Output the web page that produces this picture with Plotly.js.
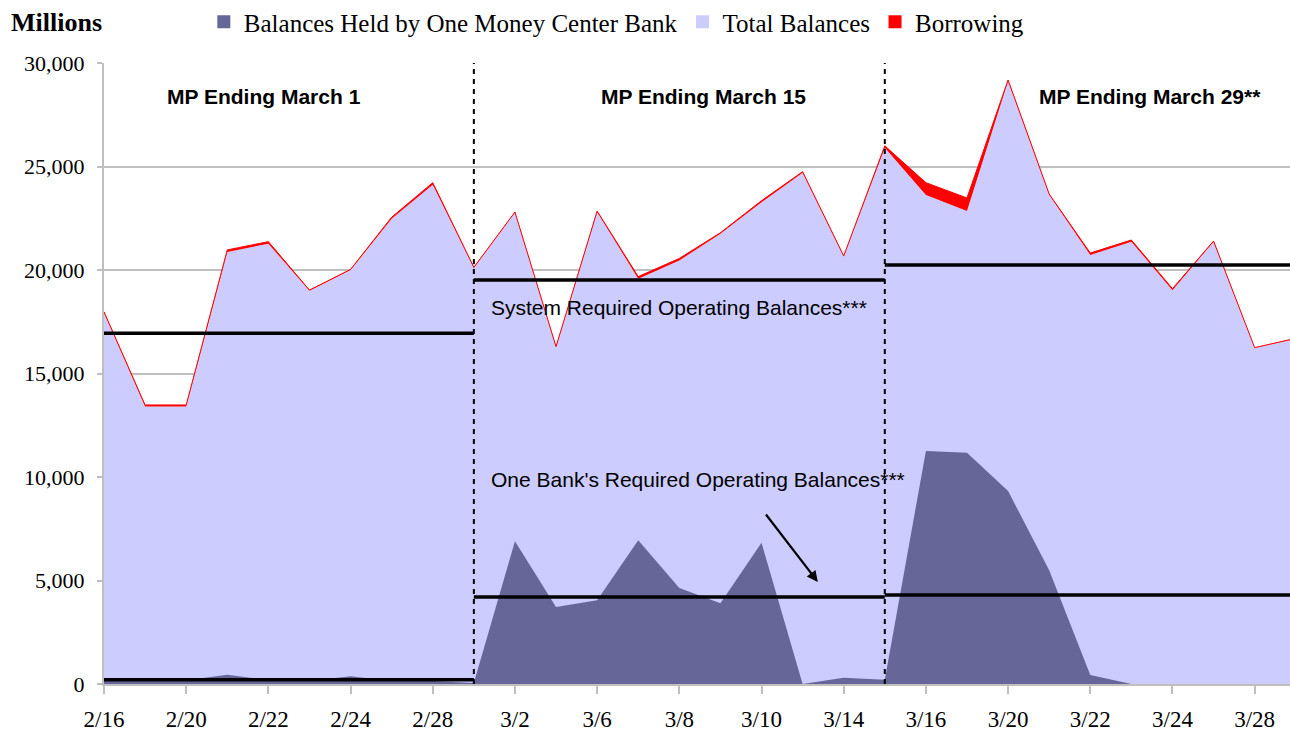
<!DOCTYPE html>
<html>
<head>
<meta charset="utf-8">
<script src="https://cdn.plot.ly/plotly-3.0.1.min.js"></script>
<style>html,body{margin:0;padding:0;background:#fff;}#chart{width:1290px;height:734px;}</style>
</head>
<body>
<div id="chart"></div>
<script>
// Business days (categories)
const dates = ["2/16","2/17","2/20","2/21","2/22","2/23","2/24","2/27","2/28","3/1",
               "3/2","3/3","3/6","3/7","3/8","3/9","3/10","3/13","3/14","3/15",
               "3/16","3/17","3/20","3/21","3/22","3/23","3/24","3/27","3/28","3/29"];
// Tick labels shown on the axis (every second business day)
const tickLabels = ["2/16","2/20","2/22","2/24","2/28","3/2","3/6","3/8","3/10","3/14","3/16","3/20","3/22","3/24","3/28"];

// Total balances (millions)
const totalBalances = [17930,13400,13400,20870,21270,19000,20000,22470,24120,20100,
                       22780,16270,22800,19580,20460,21750,23270,24700,20650,25900,
                       23620,22850,29130,23640,20720,21370,19020,21370,16230,16680];
// Borrowing (stacked on total balances)
const borrowing = [50,80,80,100,100,30,30,80,100,30,
                   20,30,50,100,100,50,80,50,30,100,
                   600,630,50,30,100,80,80,30,20,20];
// Balances held by one money center bank
const bankBalances = [150,150,180,450,180,150,380,150,150,50,
                      6900,3720,4050,6950,4640,3900,6820,0,300,200,
                      11260,11170,9320,5500,430,0,0,0,0,0];

// Maintenance periods
const periodNames = ["MP Ending March 1","MP Ending March 15","MP Ending March 29**"];
const periodStart = [0, 9, 19];
const periodEnd = [9, 19, 29];
const systemRequired = [16950, 19520, 20240];
const bankRequired = [200, 4200, 4300];

const idx = dates.map((d,i)=>i);
const tickIdx = tickLabels.map(l => dates.indexOf(l));

const traces = [];
traces.push({x: idx, y: totalBalances, type:'scatter', mode:'lines', stackgroup:'tot',
  fillcolor:'#CCCCFF', line:{width:0, color:'#CCCCFF'}, showlegend:false, hoverinfo:'skip'});
traces.push({x: idx, y: borrowing, type:'scatter', mode:'lines', stackgroup:'tot',
  fillcolor:'#FF0000', line:{width:1, color:'#FF0000'}, showlegend:false, hoverinfo:'skip'});
traces.push({x: idx, y: bankBalances, type:'scatter', mode:'lines', fill:'tozeroy',
  fillcolor:'#666699', line:{width:0, color:'#666699'}, showlegend:false, hoverinfo:'skip'});

for (let p = 0; p < periodStart.length; p++) {
  traces.push({x:[periodStart[p], periodEnd[p]], y:[systemRequired[p], systemRequired[p]],
    type:'scatter', mode:'lines', line:{color:'#000', width:3.5}, showlegend:false, hoverinfo:'skip'});
  traces.push({x:[periodStart[p], periodEnd[p]], y:[bankRequired[p], bankRequired[p]],
    type:'scatter', mode:'lines', line:{color:'#000', width:3.5}, showlegend:false, hoverinfo:'skip'});
}

// legend entries
const legendNames = ["Balances Held by One Money Center Bank","Total Balances","Borrowing"];
const legendColors = ["#666699","#CCCCFF","#FF0000"];
legendNames.forEach((n,i)=>{
  traces.push({x:[null], y:[null], type:'scatter', mode:'markers', name:n,
    marker:{symbol:'square', size:13, color:legendColors[i]}, showlegend:true});
});

const shapes = periodStart.slice(1).map(s => ({
  type:'line', xref:'x', yref:'y', x0:s, x1:s, y0:0, y1:30000, layer:'above',
  line:{color:'#000', width:2, dash:'5px,5px'}
}));

const annFont = {family:'Liberation Sans, Arial, sans-serif', size:21, color:'#000'};
const mpX = [3.89, 14.6, 25.45];
const annotations = periodNames.map((n,i)=>({
  x: mpX[i], y: 28360, xref:'x', yref:'y', text:'<b>'+n+'</b>', showarrow:false,
  xanchor:'center', yanchor:'middle', font:annFont
}));
annotations.push({x:9.37, y:18210, xref:'x', yref:'y', text:'System Required Operating Balances***',
  showarrow:false, xanchor:'left', yanchor:'middle', font:annFont});
annotations.push({x:9.37, y:9900, xref:'x', yref:'y', text:"One Bank's Required Operating Balances***",
  showarrow:false, xanchor:'left', yanchor:'middle', font:annFont});
annotations.push({x:17.37, y:4930, xref:'x', yref:'y', ax:16.08, ay:8260, axref:'x', ayref:'y',
  text:'', showarrow:true, arrowhead:2, arrowsize:1, arrowwidth:2.2, arrowcolor:'#000'});
annotations.push({x:-0.08, y:1.066, xref:'paper', yref:'paper', text:'<b>Millions</b>',
  showarrow:false, xanchor:'left', yanchor:'middle',
  font:{family:'Liberation Serif, Times New Roman, serif', size:26, color:'#000'}});

const serif = 'Liberation Serif, Times New Roman, serif';
const layout = {
  width:1290, height:734,
  margin:{l:104, r:0, t:63, b:50},
  paper_bgcolor:'#fff', plot_bgcolor:'#fff',
  showlegend:true,
  legend:{orientation:'h', traceorder:'normal', xref:'container', yref:'container', x:0.158, y:0.97,
    xanchor:'left', yanchor:'middle', font:{family:serif, size:25, color:'#000'},
    bgcolor:'rgba(0,0,0,0)', itemclick:false, tracegroupgap:0},
  xaxis:{range:[0, 28.86], tickvals:tickIdx, ticktext:tickLabels, showgrid:false,
    zeroline:false, showline:true, linecolor:'#BFBFBF', linewidth:2,
    ticks:'outside', ticklen:8, tickwidth:2, tickcolor:'#BFBFBF', ticklabelstandoff:5,
    tickfont:{family:serif, size:23, color:'#000'}},
  yaxis:{range:[0,30000], tickvals:[0,5000,10000,15000,20000,25000,30000],
    tickformat:',d', showgrid:true, gridcolor:'#C0C0C0', gridwidth:2, zeroline:false,
    showline:true, linecolor:'#BFBFBF', linewidth:2, ticks:'outside', ticklen:5,
    tickwidth:2, tickcolor:'#BFBFBF', ticklabelstandoff:8,
    tickfont:{family:serif, size:22, color:'#000'}},
  shapes:shapes,
  annotations:annotations
};

Plotly.newPlot('chart', traces, layout, {displayModeBar:false, staticPlot:true});
</script>
</body>
</html>
